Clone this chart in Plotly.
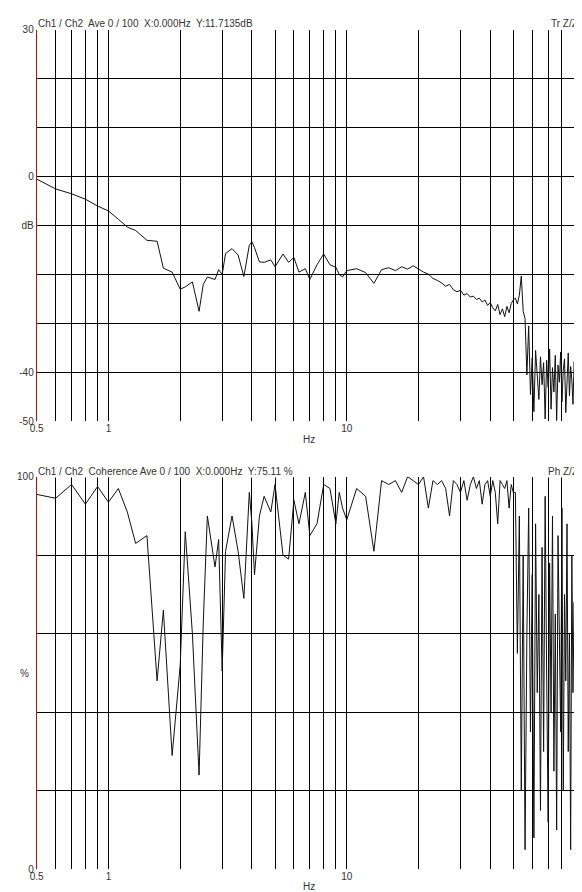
import plotly.graph_objects as go

freq = [0.5,0.6,0.7,0.8,0.9,1.0,1.1,1.2,1.3,1.45,1.6,1.7,1.85,2.0,2.1,2.25,2.4,2.5,2.6,2.8,2.9,3.0,3.1,3.3,3.5,3.7,3.9,4.0,4.1,4.3,4.5,4.8,5.0,5.4,5.7,6.0,6.3,6.7,7.0,7.5,8.0,8.5,9.0,9.3,9.6] \
    + list(range(10, 51)) + list(range(51, 101))

db_vals = [-0.5,-2.5,-3.5,-4.6,-6,-7,-8.7,-10.3,-11,-13,-13.2,-18.7,-19.5,-23,-22.5,-21.5,-27.5,-22,-20.5,-21,-19,-20,-15.7,-14.7,-16,-20.4,-14,-13.3,-14.5,-17.4,-17.5,-17,-18.4,-15.8,-17.5,-16.5,-19.5,-18.8,-21,-18,-15.8,-18,-18.5,-20,-20.5,
    -19.2,-18.8,-19.6,-21.8,-19.0,-18.6,-19.2,-18.4,-18.9,-18.2,-18.9,-19.5,-19.9,-20.8,-21.2,-21.7,-22.4,-22.0,-23.1,-23.5,-23.2,-24.2,-23.9,-24.6,-24.4,-25.1,-24.8,-25.6,-25.2,-26.3,-25.7,-26.8,-27.4,-26.1,-28.2,-27.0,-28.6,-26.5,-27.8,-25.9,-25.2,
    -24.8,-26.0,-24.2,-20.3,-27.5,-29.0,-40.5,-30.5,-44.5,-37.0,-48.0,-35.5,-41.0,-45.5,-36.8,-42.5,-38.0,-49.5,-37.5,-43.0,-35.2,-47.5,-39.0,-44.0,-36.5,-49.8,-38.5,-42.0,-35.8,-46.0,-39.5,-37.2,-48.2,-40.0,-36.0,-44.8,-38.8,-41.5,-46.5,-37.8,-43.5,-49.0,-40.8,-45.2,-49.6,-42.0,-47.8,-38.2,-33.5,-41.0]

coh_vals = [95.5,94.5,98,93,97.5,93.5,97,91,83,85,48,66,29,52,86,60,24,63,90,77,84,50.5,81,90,81,69,96,88,75,90,95,91,98,80,79,94,88,96,85,88,98,97,88,96,92,
    89,97,95,81,99,98,99,96,100,99,98,100,92,99,98,99,97,90,99,98,96,99,94,98,100,97,99,93,98,99,95,99,96,88,99,98,97,99,92,98,96,
    96,55,90,20,80,5,60,92,35,75,8,88,45,70,15,82,30,95,50,12,78,40,90,25,65,10,85,55,35,92,20,70,48,88,30,60,5,80,45,68,15,90,38,75,10,55,85,2,70,40]

xgrid = [0.5,0.6,0.7,0.8,0.9,1,2,3,4,5,6,7,8,9,10,20,30,40,50,60,70,80,90,100]
xtext = ["0.5"] + [""]*4 + ["1"] + [""]*8 + ["10"] + [""]*8 + ["100"]
db_ticks = [30,20,10,0,-10,-20,-30,-40,-50]
db_text = ["30","","","0","dB","","","-40","-50"]
coh_ticks = [100,80,60,40,20,0]
coh_text = ["100","","","","","0"]

F = "Liberation Sans"
fig = go.Figure()
line = dict(color="#111", width=1)
fig.add_trace(go.Scatter(x=freq, y=db_vals, mode="lines", line=line, xaxis="x", yaxis="y"))
fig.add_trace(go.Scatter(x=freq, y=coh_vals, mode="lines", line=line, xaxis="x2", yaxis="y2"))

xd = [22/582, 577/582]
common_x = dict(type="log", range=[-0.30103, 2], tickvals=xgrid, ticktext=xtext, showgrid=True,
                gridcolor="black", gridwidth=1, zeroline=False, ticks="", tickfont=dict(family=F, size=10, color="#333"),
                domain=xd, showline=False)
common_y = dict(showgrid=True, gridcolor="black", gridwidth=1, zeroline=False, ticks="",
                tickfont=dict(family=F, size=10, color="#333"), showline=True, linecolor="#d00", linewidth=1)
fig.update_layout(
    width=582, height=892, paper_bgcolor="white", plot_bgcolor="white", showlegend=False,
    margin=dict(l=0, r=0, t=0, b=0),
    xaxis=dict(common_x, anchor="y"),
    yaxis=dict(common_y, range=[-50, 30], tickvals=db_ticks, ticktext=db_text, domain=[1-413/892, 1-16/892], anchor="x"),
    xaxis2=dict(common_x, anchor="y2"),
    yaxis2=dict(common_y, range=[0, 100], tickvals=coh_ticks, ticktext=coh_text, domain=[1-867/892, 1-469/892], anchor="x2"),
)
ann = []
def a(x, y, t, xa="left"):
    ann.append(dict(xref="paper", yref="paper", x=x/582, y=1-y/892, text=t, showarrow=False, xanchor=xa,
                    yanchor="middle", bgcolor="white", borderpad=0, font=dict(family=F, size=10, color="#333")))
a(22, 10, "Ch1 / Ch2  Ave 0 / 100  X:0.000Hz  Y:11.7135dB")
a(574, 10, "Tr Z/Zf", "right")
a(22, 464, "Ch1 / Ch2  Coherence Ave 0 / 100  X:0.000Hz  Y:75.11 %")
a(574, 464, "Ph Z/Zf", "right")
a(298, 431, "Hz", "center")
a(298, 884, "Hz", "center")
a(10, 668, "%", "center")
fig.update_layout(annotations=ann)
fig.write_html("out.html")
